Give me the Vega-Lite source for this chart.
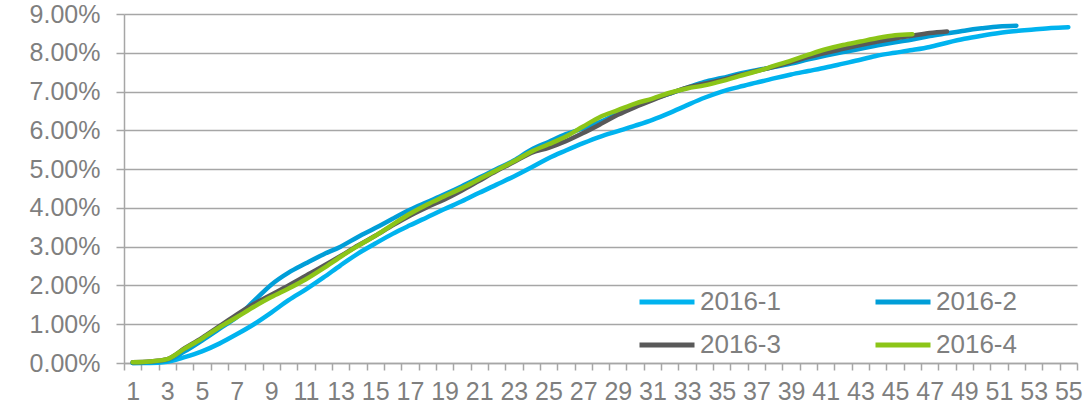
{
  "$schema": "https://vega.github.io/schema/vega-lite/v6.json",
  "width": 953,
  "height": 349,
  "autosize": {"type": "none"},
  "padding": {"left": 124, "top": 14, "right": 12, "bottom": 44},
  "background": "white",
  "config": {"view": {"stroke": null}, "font": "Liberation Sans"},
  "data": {"values": [
    {"week":1,"series":"2016-1","rate":0.0},{"week":2,"series":"2016-1","rate":0.0},{"week":3,"series":"2016-1","rate":0.0003},{"week":4,"series":"2016-1","rate":0.0015},{"week":5,"series":"2016-1","rate":0.003},{"week":6,"series":"2016-1","rate":0.005},{"week":7,"series":"2016-1","rate":0.0074},{"week":8,"series":"2016-1","rate":0.01},{"week":9,"series":"2016-1","rate":0.013},{"week":10,"series":"2016-1","rate":0.0162},{"week":11,"series":"2016-1","rate":0.019},{"week":12,"series":"2016-1","rate":0.022},{"week":13,"series":"2016-1","rate":0.0252},{"week":14,"series":"2016-1","rate":0.0282},{"week":15,"series":"2016-1","rate":0.0308},{"week":16,"series":"2016-1","rate":0.0333},{"week":17,"series":"2016-1","rate":0.0355},{"week":18,"series":"2016-1","rate":0.0376},{"week":19,"series":"2016-1","rate":0.0397},{"week":20,"series":"2016-1","rate":0.0417},{"week":21,"series":"2016-1","rate":0.0439},{"week":22,"series":"2016-1","rate":0.046},{"week":23,"series":"2016-1","rate":0.0481},{"week":24,"series":"2016-1","rate":0.0504},{"week":25,"series":"2016-1","rate":0.0528},{"week":26,"series":"2016-1","rate":0.0548},{"week":27,"series":"2016-1","rate":0.0567},{"week":28,"series":"2016-1","rate":0.0584},{"week":29,"series":"2016-1","rate":0.0598},{"week":30,"series":"2016-1","rate":0.0612},{"week":31,"series":"2016-1","rate":0.0627},{"week":32,"series":"2016-1","rate":0.0645},{"week":33,"series":"2016-1","rate":0.0665},{"week":34,"series":"2016-1","rate":0.0684},{"week":35,"series":"2016-1","rate":0.07},{"week":36,"series":"2016-1","rate":0.0712},{"week":37,"series":"2016-1","rate":0.0723},{"week":38,"series":"2016-1","rate":0.0734},{"week":39,"series":"2016-1","rate":0.0744},{"week":40,"series":"2016-1","rate":0.0753},{"week":41,"series":"2016-1","rate":0.0762},{"week":42,"series":"2016-1","rate":0.0772},{"week":43,"series":"2016-1","rate":0.0782},{"week":44,"series":"2016-1","rate":0.0793},{"week":45,"series":"2016-1","rate":0.08},{"week":46,"series":"2016-1","rate":0.0807},{"week":47,"series":"2016-1","rate":0.0815},{"week":48,"series":"2016-1","rate":0.0826},{"week":49,"series":"2016-1","rate":0.0836},{"week":50,"series":"2016-1","rate":0.0844},{"week":51,"series":"2016-1","rate":0.0851},{"week":52,"series":"2016-1","rate":0.0856},{"week":53,"series":"2016-1","rate":0.086},{"week":54,"series":"2016-1","rate":0.0864},{"week":55,"series":"2016-1","rate":0.0866},
    {"week":1,"series":"2016-2","rate":0.0},{"week":2,"series":"2016-2","rate":0.0002},{"week":3,"series":"2016-2","rate":0.0007},{"week":4,"series":"2016-2","rate":0.003},{"week":5,"series":"2016-2","rate":0.0058},{"week":6,"series":"2016-2","rate":0.0088},{"week":7,"series":"2016-2","rate":0.0118},{"week":8,"series":"2016-2","rate":0.016},{"week":9,"series":"2016-2","rate":0.0202},{"week":10,"series":"2016-2","rate":0.0233},{"week":11,"series":"2016-2","rate":0.0257},{"week":12,"series":"2016-2","rate":0.028},{"week":13,"series":"2016-2","rate":0.03},{"week":14,"series":"2016-2","rate":0.0325},{"week":15,"series":"2016-2","rate":0.0348},{"week":16,"series":"2016-2","rate":0.0372},{"week":17,"series":"2016-2","rate":0.0395},{"week":18,"series":"2016-2","rate":0.0415},{"week":19,"series":"2016-2","rate":0.0435},{"week":20,"series":"2016-2","rate":0.0456},{"week":21,"series":"2016-2","rate":0.0478},{"week":22,"series":"2016-2","rate":0.05},{"week":23,"series":"2016-2","rate":0.0522},{"week":24,"series":"2016-2","rate":0.055},{"week":25,"series":"2016-2","rate":0.057},{"week":26,"series":"2016-2","rate":0.059},{"week":27,"series":"2016-2","rate":0.0605},{"week":28,"series":"2016-2","rate":0.0622},{"week":29,"series":"2016-2","rate":0.0643},{"week":30,"series":"2016-2","rate":0.0662},{"week":31,"series":"2016-2","rate":0.068},{"week":32,"series":"2016-2","rate":0.0695},{"week":33,"series":"2016-2","rate":0.071},{"week":34,"series":"2016-2","rate":0.0725},{"week":35,"series":"2016-2","rate":0.0735},{"week":36,"series":"2016-2","rate":0.0746},{"week":37,"series":"2016-2","rate":0.0755},{"week":38,"series":"2016-2","rate":0.0763},{"week":39,"series":"2016-2","rate":0.0772},{"week":40,"series":"2016-2","rate":0.0783},{"week":41,"series":"2016-2","rate":0.0793},{"week":42,"series":"2016-2","rate":0.0802},{"week":43,"series":"2016-2","rate":0.081},{"week":44,"series":"2016-2","rate":0.0819},{"week":45,"series":"2016-2","rate":0.0827},{"week":46,"series":"2016-2","rate":0.0834},{"week":47,"series":"2016-2","rate":0.0843},{"week":48,"series":"2016-2","rate":0.085},{"week":49,"series":"2016-2","rate":0.0857},{"week":50,"series":"2016-2","rate":0.0863},{"week":51,"series":"2016-2","rate":0.0868},{"week":52,"series":"2016-2","rate":0.087},
    {"week":1,"series":"2016-3","rate":0.0002},{"week":2,"series":"2016-3","rate":0.0004},{"week":3,"series":"2016-3","rate":0.001},{"week":4,"series":"2016-3","rate":0.0038},{"week":5,"series":"2016-3","rate":0.0065},{"week":6,"series":"2016-3","rate":0.0095},{"week":7,"series":"2016-3","rate":0.0125},{"week":8,"series":"2016-3","rate":0.0152},{"week":9,"series":"2016-3","rate":0.0176},{"week":10,"series":"2016-3","rate":0.02},{"week":11,"series":"2016-3","rate":0.0225},{"week":12,"series":"2016-3","rate":0.025},{"week":13,"series":"2016-3","rate":0.0276},{"week":14,"series":"2016-3","rate":0.0303},{"week":15,"series":"2016-3","rate":0.0328},{"week":16,"series":"2016-3","rate":0.0355},{"week":17,"series":"2016-3","rate":0.038},{"week":18,"series":"2016-3","rate":0.0402},{"week":19,"series":"2016-3","rate":0.0422},{"week":20,"series":"2016-3","rate":0.0445},{"week":21,"series":"2016-3","rate":0.047},{"week":22,"series":"2016-3","rate":0.0495},{"week":23,"series":"2016-3","rate":0.0518},{"week":24,"series":"2016-3","rate":0.0542},{"week":25,"series":"2016-3","rate":0.0555},{"week":26,"series":"2016-3","rate":0.0572},{"week":27,"series":"2016-3","rate":0.0593},{"week":28,"series":"2016-3","rate":0.0616},{"week":29,"series":"2016-3","rate":0.064},{"week":30,"series":"2016-3","rate":0.066},{"week":31,"series":"2016-3","rate":0.0678},{"week":32,"series":"2016-3","rate":0.0695},{"week":33,"series":"2016-3","rate":0.071},{"week":34,"series":"2016-3","rate":0.072},{"week":35,"series":"2016-3","rate":0.073},{"week":36,"series":"2016-3","rate":0.0742},{"week":37,"series":"2016-3","rate":0.0753},{"week":38,"series":"2016-3","rate":0.0764},{"week":39,"series":"2016-3","rate":0.0776},{"week":40,"series":"2016-3","rate":0.0789},{"week":41,"series":"2016-3","rate":0.08},{"week":42,"series":"2016-3","rate":0.081},{"week":43,"series":"2016-3","rate":0.082},{"week":44,"series":"2016-3","rate":0.0829},{"week":45,"series":"2016-3","rate":0.0837},{"week":46,"series":"2016-3","rate":0.0844},{"week":47,"series":"2016-3","rate":0.0851},{"week":48,"series":"2016-3","rate":0.0855},
    {"week":1,"series":"2016-4","rate":0.0002},{"week":2,"series":"2016-4","rate":0.0004},{"week":3,"series":"2016-4","rate":0.001},{"week":4,"series":"2016-4","rate":0.0037},{"week":5,"series":"2016-4","rate":0.0063},{"week":6,"series":"2016-4","rate":0.0092},{"week":7,"series":"2016-4","rate":0.0118},{"week":8,"series":"2016-4","rate":0.0145},{"week":9,"series":"2016-4","rate":0.017},{"week":10,"series":"2016-4","rate":0.0192},{"week":11,"series":"2016-4","rate":0.0216},{"week":12,"series":"2016-4","rate":0.0244},{"week":13,"series":"2016-4","rate":0.0274},{"week":14,"series":"2016-4","rate":0.0302},{"week":15,"series":"2016-4","rate":0.0328},{"week":16,"series":"2016-4","rate":0.0357},{"week":17,"series":"2016-4","rate":0.0385},{"week":18,"series":"2016-4","rate":0.0409},{"week":19,"series":"2016-4","rate":0.043},{"week":20,"series":"2016-4","rate":0.0451},{"week":21,"series":"2016-4","rate":0.0474},{"week":22,"series":"2016-4","rate":0.0497},{"week":23,"series":"2016-4","rate":0.052},{"week":24,"series":"2016-4","rate":0.0545},{"week":25,"series":"2016-4","rate":0.0564},{"week":26,"series":"2016-4","rate":0.0584},{"week":27,"series":"2016-4","rate":0.061},{"week":28,"series":"2016-4","rate":0.0635},{"week":29,"series":"2016-4","rate":0.0652},{"week":30,"series":"2016-4","rate":0.0669},{"week":31,"series":"2016-4","rate":0.0682},{"week":32,"series":"2016-4","rate":0.0697},{"week":33,"series":"2016-4","rate":0.0708},{"week":34,"series":"2016-4","rate":0.0716},{"week":35,"series":"2016-4","rate":0.0727},{"week":36,"series":"2016-4","rate":0.074},{"week":37,"series":"2016-4","rate":0.0752},{"week":38,"series":"2016-4","rate":0.0766},{"week":39,"series":"2016-4","rate":0.078},{"week":40,"series":"2016-4","rate":0.0795},{"week":41,"series":"2016-4","rate":0.0809},{"week":42,"series":"2016-4","rate":0.082},{"week":43,"series":"2016-4","rate":0.0829},{"week":44,"series":"2016-4","rate":0.0838},{"week":45,"series":"2016-4","rate":0.0845},{"week":46,"series":"2016-4","rate":0.0848}
  ]},
  "mark": {"type": "line", "strokeWidth": 4.5, "strokeCap": "round", "strokeJoin": "round", "interpolate": "monotone"},
  "encoding": {
    "x": {
      "field": "week", "type": "ordinal", "sort": "ascending",
      "scale": {"type": "band", "paddingInner": 0, "paddingOuter": 0},
      "axis": {
        "title": null, "labelAngle": 0, "tickBand": "extent",
        "labelExpr": "datum.value % 2 == 1 ? datum.label : ''",
        "labelOverlap": false, "labelFlush": false,
        "labelFont": "Liberation Sans", "labelFontSize": 25, "labelColor": "#7f7f7f",
        "labelPadding": 9, "tickSize": 7, "tickColor": "#a6a6a6", "tickWidth": 1.5,
        "domainColor": "#a6a6a6", "domainWidth": 1.5, "grid": false
      }
    },
    "y": {
      "field": "rate", "type": "quantitative",
      "scale": {"domain": [0, 0.09], "nice": false},
      "axis": {
        "title": null, "values": [0, 0.01, 0.02, 0.03, 0.04, 0.05, 0.06, 0.07, 0.08, 0.09],
        "format": ".2%", "labelFont": "Liberation Sans", "labelFontSize": 25, "labelColor": "#7f7f7f",
        "labelPadding": 16, "tickSize": 8, "tickColor": "#a6a6a6", "tickWidth": 1.5,
        "domainColor": "#a6a6a6", "domainWidth": 1.5,
        "grid": true, "gridColor": "#a6a6a6", "gridWidth": 1.5
      }
    },
    "color": {
      "field": "series", "type": "nominal",
      "scale": {"domain": ["2016-1", "2016-2", "2016-3", "2016-4"], "range": ["#00b3ef", "#009ed8", "#595959", "#8cc518"]},
      "legend": {
        "title": null, "orient": "none", "legendX": 513, "legendY": 258, "columns": 2, "direction": "horizontal",
        "symbolType": "stroke", "symbolSize": 3025, "symbolStrokeWidth": 5,
        "labelFont": "Liberation Sans", "labelFontSize": 26, "labelColor": "#7f7f7f",
        "labelOffset": 3, "columnPadding": 84, "rowPadding": -9, "padding": 0
      }
    }
  }
}
